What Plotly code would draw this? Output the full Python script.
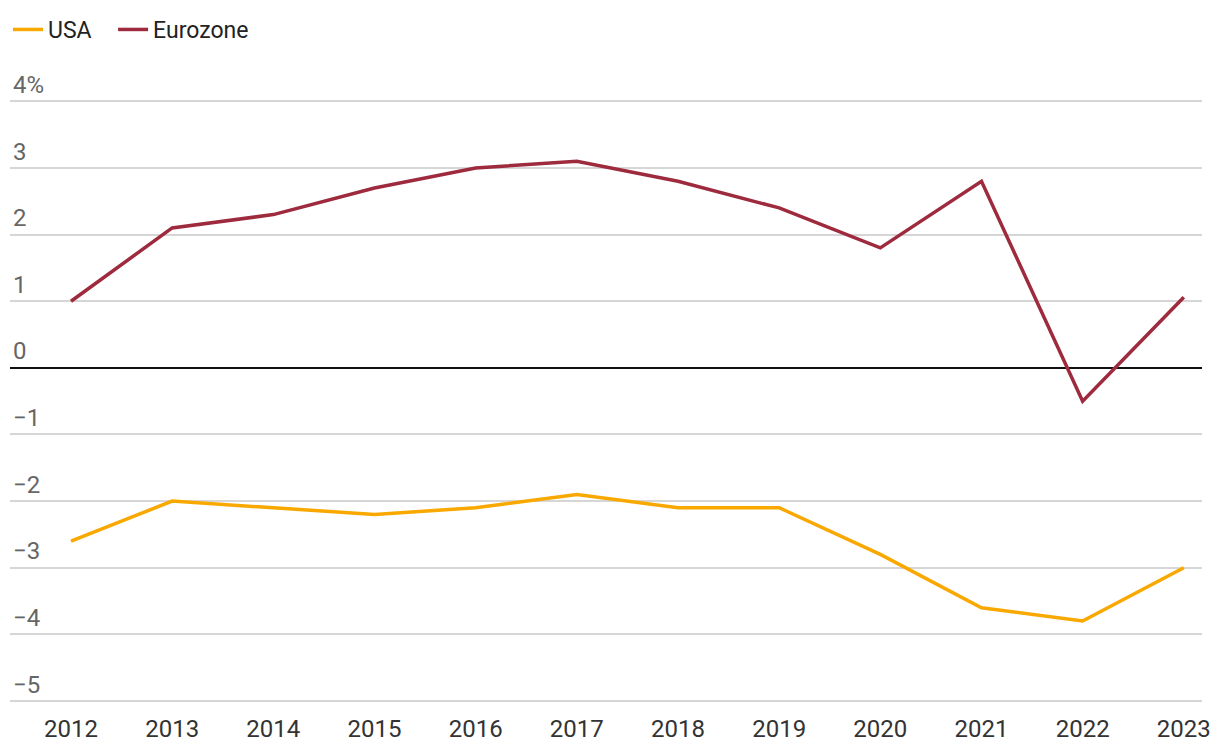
import plotly.graph_objects as go

years = [2012, 2013, 2014, 2015, 2016, 2017, 2018, 2019, 2020, 2021, 2022, 2023]
usa = [-2.6, -2.0, -2.1, -2.2, -2.1, -1.9, -2.1, -2.1, -2.8, -3.6, -3.8, -3.0]
eurozone = [1.0, 2.1, 2.3, 2.7, 3.0, 3.1, 2.8, 2.4, 1.8, 2.8, -0.5, 1.06]
y_ticks = [4, 3, 2, 1, 0, -1, -2, -3, -4, -5]
y_labels = ["4%", "3", "2", "1", "0", "\u22121", "\u22122", "\u22123", "\u22124", "\u22125"]

fig = go.Figure()
fig.add_trace(go.Scatter(x=years, y=usa, name="USA", mode="lines", legend="legend",
                         line=dict(color="#f9a800", width=3.5)))
fig.add_trace(go.Scatter(x=years, y=eurozone, name="Eurozone", mode="lines", legend="legend2",
                         line=dict(color="#9e2a3e", width=3.5)))

legend_common = dict(orientation="h", xref="container", yref="container", y=1.0,
                     xanchor="left", yanchor="top", font=dict(size=23, color="#222"))

fig.update_layout(
    width=1212, height=744,
    margin=dict(l=2, r=18, t=60, b=49, autoexpand=False),
    paper_bgcolor="white", plot_bgcolor="white",
    font=dict(family="Roboto", size=24, color="#333"),
    showlegend=True,
    legend=dict(x=-0.005, **legend_common),
    legend2=dict(x=0.0867, **legend_common),
    xaxis=dict(range=[2011.397, 2023.18], tickvals=years, ticktext=[str(y) for y in years],
               showgrid=False, zeroline=False, showline=False, ticks="",
               ticklabelstandoff=9,
               tickfont=dict(size=24, color="#333")),
    yaxis=dict(range=[-5.03, 4.5], tickvals=y_ticks, ticktext=y_labels,
               ticklabelposition="inside top", showgrid=True, gridcolor="#d6d6d6", gridwidth=2,
               zeroline=True, zerolinecolor="#111", zerolinewidth=2, showline=False, ticks="",
               tickfont=dict(size=24, color="#666")),
)

fig.write_html("out.html")
